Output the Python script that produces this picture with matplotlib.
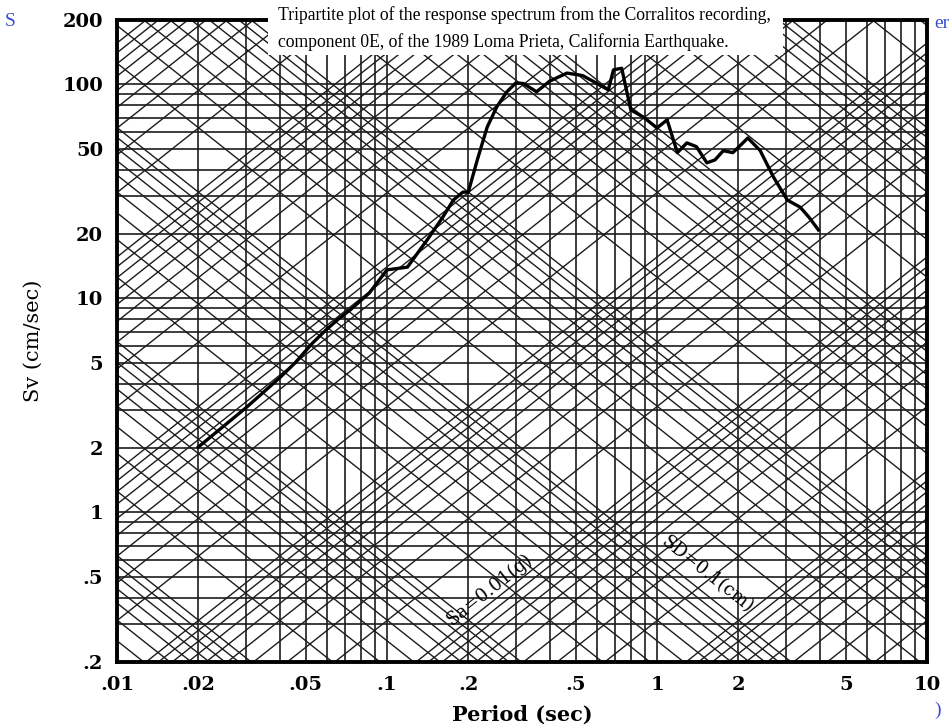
import numpy as np
import matplotlib
matplotlib.use("Agg")
import matplotlib.pyplot as plt

# response spectrum (period in sec, Sv in cm/sec)
period = [0.02, 0.03, 0.04, 0.0456, 0.053, 0.06, 0.066, 0.073, 0.086, 0.1, 0.119,
          0.141, 0.161, 0.176, 0.191, 0.2, 0.216, 0.235, 0.255, 0.278, 0.30, 0.32,
          0.358, 0.40, 0.464, 0.53, 0.60, 0.66, 0.69, 0.74, 0.80, 0.89, 1.0, 1.09,
          1.19, 1.29, 1.40, 1.53, 1.64, 1.76, 1.91, 2.08, 2.17, 2.41, 2.70, 3.04,
          3.39, 3.65, 3.96]
sv = [2.02, 3.08, 4.25, 4.99, 6.19, 7.2, 8.0, 8.83, 10.6, 13.6, 14.0,
      18.8, 24.0, 28.8, 31.4, 31.4, 44.4, 63.2, 78.5, 92.4, 101.6, 101.0,
      92.4, 103.5, 113.0, 110.0, 101.0, 94.3, 117.0, 119.0, 76.0, 70.4, 62.6, 68.3,
      48.0, 53.3, 51.2, 43.0, 44.4, 49.0, 48.0, 53.3, 56.2, 49.1, 36.9, 28.8,
      26.7, 24.0, 20.9]

xticks = [0.01, 0.02, 0.05, 0.1, 0.2, 0.5, 1, 2, 5, 10]
xticklabels = [".01", ".02", ".05", ".1", ".2", ".5", "1", "2", "5", "10"]
yticks = [0.2, 0.5, 1, 2, 5, 10, 20, 50, 100, 200]
yticklabels = [".2", ".5", "1", "2", "5", "10", "20", "50", "100", "200"]

mults = [1, 2, 3, 4, 5, 6, 7, 8, 9]
decades = [1e-4, 1e-3, 1e-2, 1e-1, 1, 10, 100, 1000]
g = 981.0

title_lines = ["Tripartite plot of the response spectrum from the Corralitos recording,",
               "component 0E, of the 1989 Loma Prieta, California Earthquake."]

fig = plt.figure(figsize=(9.52, 7.27), dpi=100)
ax = fig.add_axes([117 / 952, 1 - 662 / 727, 810 / 952, 642 / 727])
ax.set_xscale("log")
ax.set_yscale("log")
ax.set_xlim(0.01, 10)
ax.set_ylim(0.2, 200)

gc = "#1c1c1c"
# vertical / horizontal log grid
for d in [0.01, 0.1, 1]:
    for m in mults:
        ax.axvline(m * d, color=gc, lw=1.2, zorder=1)
for d in [0.1, 1, 10, 100]:
    for m in mults:
        v = m * d
        if 0.2 <= v <= 200:
            ax.axhline(v, color=gc, lw=1.2, zorder=1)

# diagonal grid: constant Sa (g) and constant SD (cm)
tt = np.array([1e-3, 1e2])
for d in decades:
    for m in mults:
        sa = m * d
        ax.plot(tt, sa * g * tt / (2 * np.pi), color=gc, lw=1.0, zorder=1)
        sd = m * d
        ax.plot(tt, 2 * np.pi * sd / tt, color=gc, lw=1.0, zorder=1)

ax.plot(period, sv, color="black", lw=2.4, zorder=3)

# line labels
fig.canvas.draw()
p0 = ax.transData.transform((0.1, 1))
p1 = ax.transData.transform((1, 10))
ang = np.degrees(np.arctan2(p1[1] - p0[1], p1[0] - p0[0]))
ta = 0.24
ax.text(ta, 0.01 * g * ta / (2 * np.pi) * 1.17, "Sa=0.01(g)", rotation=ang,
        ha="center", va="center", family="DejaVu Serif", fontsize=13, zorder=4)
ts = 1.54
ax.text(ts, 2 * np.pi * 0.1 / ts * 1.25, "SD=0.1(cm)", rotation=-ang,
        ha="center", va="center", family="DejaVu Serif", fontsize=13, zorder=4)

ax.set_xticks(xticks)
ax.set_xticklabels(xticklabels)
ax.set_yticks(yticks)
ax.set_yticklabels(yticklabels)
ax.minorticks_off()
ax.tick_params(length=0, pad=10)
for lab in ax.get_xticklabels() + ax.get_yticklabels():
    lab.set_family("DejaVu Serif")
    lab.set_fontweight("bold")
    lab.set_fontsize(14)
for s in ax.spines.values():
    s.set_linewidth(2.8)
    s.set_zorder(5)

ax.set_xlabel("Period (sec)", family="DejaVu Serif", fontweight="bold",
              fontsize=15, labelpad=8)
ax.set_ylabel("Sv (cm/sec)", family="DejaVu Serif", fontsize=15, labelpad=14)

# caption box pasted on top
fig.patches.append(plt.Rectangle((268 / 952, 1 - 55 / 727), 515 / 952, 55 / 727,
                                 transform=fig.transFigure, facecolor="white",
                                 edgecolor="none", zorder=10))
fig.text(278 / 952, 1 - 15 / 727, title_lines[0], family="Liberation Serif",
         fontsize=12.7, va="center", ha="left", zorder=11)
fig.text(278 / 952, 1 - 42 / 727, title_lines[1], family="Liberation Serif",
         fontsize=12.7, va="center", ha="left", zorder=11)

# stray page fragments
blue = "#3a4fd0"
fig.text(5 / 952, 1 - 22 / 727, "S", color=blue, family="Liberation Serif",
         fontsize=14, va="center")
fig.text(934 / 952, 1 - 24 / 727, "er", color=blue, family="Liberation Serif",
         fontsize=14, va="center")
fig.text(934 / 952, 1 - 710 / 727, ")", color=blue, family="Liberation Serif",
         fontsize=14, va="center")

fig.savefig("out.png", dpi=100)
